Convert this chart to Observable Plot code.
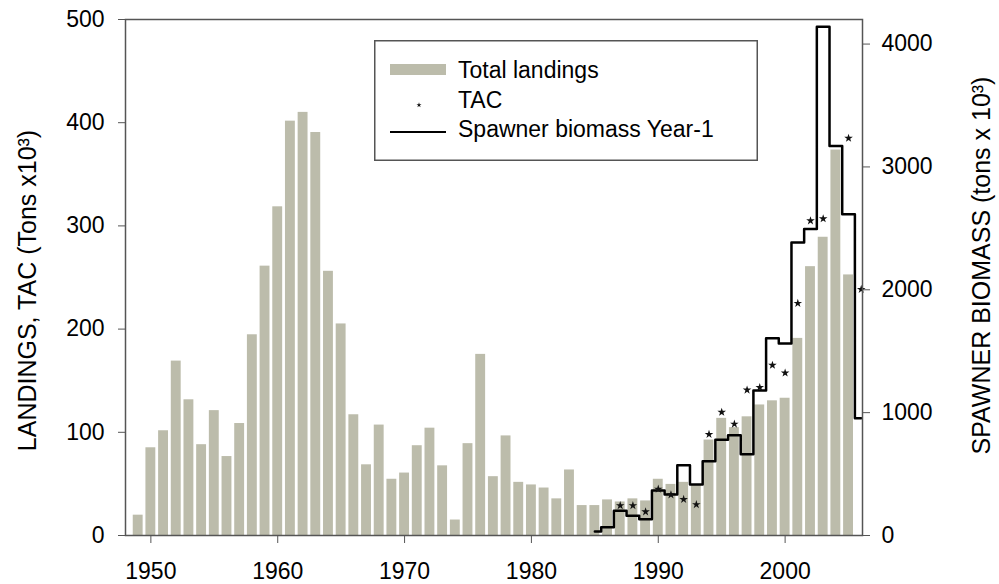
<!DOCTYPE html>
<html>
<head>
<meta charset="utf-8">
<script src="https://cdn.jsdelivr.net/npm/d3@7"></script>
<script src="https://cdn.jsdelivr.net/npm/@observablehq/plot@0.6"></script>
<style>
  body { margin: 0; background: #fff; }
  #chart { position: relative; width: 999px; height: 584px; font-family: "Liberation Sans", Arial, sans-serif; }
  #legend { position: absolute; left: 374px; top: 40px; }
</style>
</head>
<body>
<div id="chart"></div>
<script>
// Total landings per year (tons x 10^3), left axis
const landingYears = [
  1949, 1950, 1951, 1952, 1953, 1954, 1955, 1956, 1957, 1958,
  1959, 1960, 1961, 1962, 1963, 1964, 1965, 1966, 1967, 1968,
  1969, 1970, 1971, 1972, 1973, 1974, 1975, 1976, 1977, 1978,
  1979, 1980, 1981, 1982, 1983, 1984, 1985, 1986, 1987, 1988,
  1989, 1990, 1991, 1992, 1993, 1994, 1995, 1996, 1997, 1998,
  1999, 2000, 2001, 2002, 2003, 2004, 2005
];
const landings = [
  19.7, 85, 101.5, 169, 131.5, 88, 121, 76.5, 108.5, 194.5,
  261, 318.5, 401.5, 410, 390.5, 256, 205, 117, 68.5, 107,
  54.5, 60.5, 87, 104, 67.5, 15, 89, 175.5, 57, 96.5,
  51.5, 49, 46, 35.5, 63.5, 29, 29, 34.5, 32.5, 35.5,
  33.5, 54.5, 49.5, 51.5, 48.5, 92.5, 113.5, 104.5, 115, 126.5,
  130.5, 133, 191, 260.5, 289, 373.5, 252.5
];

// TAC (tons x 10^3), left axis
const tacYears = [1987, 1988, 1989, 1990, 1991, 1992, 1993, 1994, 1995, 1996,
                  1997, 1998, 1999, 2000, 2001, 2002, 2003, 2005, 2006];
const tac = [29, 29, 23, 45, 39.5, 35, 30, 98, 119.5, 108,
             141, 143.5, 165, 157.5, 225, 305, 307, 385, 238.5];

// Spawner biomass of the previous year (tons x 10^3), right axis
const biomassYears = [1985, 1986, 1987, 1988, 1989, 1990, 1991, 1992, 1993, 1994, 1995,
                      1996, 1997, 1998, 1999, 2000, 2001, 2002, 2003, 2004, 2005, 2006];
const biomass = [33, 67, 202, 161, 133, 367, 333, 572, 415, 604, 780,
                 816, 661, 1180, 1605, 1562, 2385, 2495, 4140, 3170, 2615, 955];

// Axis ticks and titles
const yearTicks = [1950, 1960, 1970, 1980, 1990, 2000];
const landingTicks = [0, 100, 200, 300, 400, 500];
const biomassTicks = [0, 1000, 2000, 3000, 4000];
const landingsMax = 500;
const biomassMax = 4200;
const leftTitle = "LANDINGS, TAC (Tons x10³)";
const rightTitle = "SPAWNER BIOMASS (tons x 10³)";
const legendLabels = ["Total landings", "TAC", "Spawner biomass Year-1"];

const barColor = "#bcbcab";
const axisColor = "#555";

// Right-axis values are drawn on the left-axis scale
const toLeft = v => v * landingsMax / biomassMax;
const fromLeft = v => Math.round(v * biomassMax / landingsMax);

const landingRows = landingYears.map((year, i) => ({year, value: landings[i]}));
const tacRows = tacYears.map((year, i) => ({year, value: tac[i]}));
const biomassRows = biomassYears.map((year, i) => ({year, value: biomass[i]}));

const chart = Plot.plot({
  width: 999,
  height: 584,
  marginLeft: 125,
  marginRight: 137,
  marginTop: 19,
  marginBottom: 49,
  style: {fontFamily: '"Liberation Sans", Arial, sans-serif', fontSize: "23px", color: "#000", background: "#fff"},
  x: {domain: [1948, 2006.1]},
  y: {domain: [0, landingsMax]},
  marks: [
    Plot.rectY(landingRows, {
      x1: d => d.year - 0.5, x2: d => d.year + 0.5, y: "value",
      fill: barColor, insetLeft: 1.4, insetRight: 1.4
    }),
    Plot.line(biomassRows, {
      x: "year", y: d => toLeft(d.value), curve: "step",
      stroke: "#000", strokeWidth: 2.5
    }),
    Plot.dot(tacRows, {x: "year", y: "value", symbol: "star", r: 2.7, fill: "#111", stroke: "none"}),
    Plot.frame({stroke: axisColor, strokeWidth: 1.5}),
    Plot.axisX(yearTicks, {
      tickFormat: d => String(d), tickSize: 8, tickPadding: 19,
      stroke: axisColor, fill: "#000", label: null
    }),
    Plot.axisY(landingTicks, {
      tickSize: 7, tickPadding: 14, stroke: axisColor, fill: "#000", label: null
    }),
    Plot.axisY(biomassTicks.map(toLeft), {
      anchor: "right", tickFormat: d => String(fromLeft(d)), tickSize: 7, tickPadding: 12,
      stroke: axisColor, fill: "#000", label: null
    }),
    Plot.text([leftTitle], {
      text: d => d, frameAnchor: "left", rotate: -90, dx: -98, dy: 13,
      fontSize: 25, textAnchor: "middle", lineAnchor: "middle", fill: "#000"
    }),
    Plot.text([rightTitle], {
      text: d => d, frameAnchor: "right", rotate: -90, dx: 119, dy: -12,
      fontSize: 25, textAnchor: "middle", lineAnchor: "middle", fill: "#000"
    })
  ]
});

const container = document.getElementById("chart");
container.appendChild(chart);

// Legend box drawn over the plot area
const legend = d3.create("svg")
  .attr("id", "legend")
  .attr("width", 384)
  .attr("height", 121)
  .style("font-family", '"Liberation Sans", Arial, sans-serif')
  .style("font-size", "23px");

legend.append("rect")
  .attr("x", 0.75).attr("y", 0.75)
  .attr("width", 382.5).attr("height", 119.5)
  .attr("fill", "#fff").attr("stroke", axisColor).attr("stroke-width", 1.5);

legend.append("rect")
  .attr("x", 16).attr("y", 24).attr("width", 56).attr("height", 11)
  .attr("fill", barColor);

legend.append("path")
  .attr("transform", "translate(45,65)")
  .attr("d", d3.symbol(d3.symbolStar, 8)())
  .attr("fill", "#111");

legend.append("line")
  .attr("x1", 16).attr("x2", 72).attr("y1", 92).attr("y2", 92)
  .attr("stroke", "#000").attr("stroke-width", 2);

legend.selectAll("text.label")
  .data(legendLabels)
  .join("text")
  .attr("class", "label")
  .attr("x", 84)
  .attr("y", (d, i) => [38, 68, 97][i])
  .attr("fill", "#000")
  .text(d => d);

container.appendChild(legend.node());
</script>
</body>
</html>
